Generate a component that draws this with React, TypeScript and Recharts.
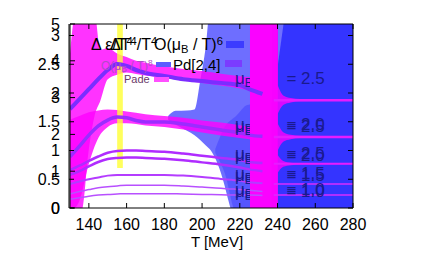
import React from 'react';
import { ComposedChart, XAxis, YAxis, Area, Line } from 'recharts';

// temperature grid for the curves left of the magenta strip (MeV)
const temps = [130, 135, 140, 145, 150, 155, 160, 165, 170, 180, 190, 200, 210, 220, 225, 232];

// curves, one per muB/T (values on the 0..5 axis)
const lineTop = [2.69, 2.96, 3.23, 3.5, 3.75, 3.91, 3.86, 3.75, 3.67, 3.59, 3.5, 3.45, 3.4, 3.34, 3.23, 3.1];
const lineSecond = [1.39, 1.68, 1.98, 2.23, 2.39, 2.47, 2.45, 2.38, 2.34, 2.34, 2.28, 2.2, 2.12, 2.04, 1.98, 1.95];
const lineThird = [1.03, 1.15, 1.28, 1.4, 1.5, 1.55, 1.56, 1.56, 1.55, 1.53, 1.48, 1.42, 1.36, 1.3, 1.25, 1.22];
const lineFourth = [0.9, 1.0, 1.13, 1.25, 1.33, 1.36, 1.37, 1.37, 1.36, 1.34, 1.3, 1.24, 1.18, 1.1, 1.05, 1.0];
const lineFifth = [0.65, 0.72, 0.78, 0.83, 0.88, 0.9, 0.9, 0.9, 0.9, 0.9, 0.88, 0.84, 0.79, 0.74, 0.7, 0.67];
const lineSixth = [0.38, 0.45, 0.5, 0.55, 0.58, 0.6, 0.62, 0.62, 0.62, 0.62, 0.6, 0.57, 0.54, 0.5, 0.48, 0.45];
const lineSeventh = [0.24, 0.28, 0.32, 0.35, 0.37, 0.38, 0.39, 0.39, 0.39, 0.39, 0.38, 0.37, 0.36, 0.35, 0.35, 0.34];

// the same curves right of the strip
const rightT = [238, 250, 260, 270, 280];
const rightTop = [2.93, 2.93, 2.93, 2.93, 2.93];
const rightSecond = [1.93, 1.93, 1.93, 1.93, 1.93];
const rightThird = [1.2, 1.2, 1.2, 1.2, 1.2];
const rightFourth = [0.65, 0.65, 0.65, 0.65, 0.65];
const rightFifth = [0.35, 0.35, 0.35, 0.35, 0.35];

// Pade error bands
const bandTopT = [130, 133, 136, 140, 143, 146, 150, 155, 160, 165, 170, 180, 190, 200, 210, 220, 226];
const bandTopLo = [-0.1, -0.1, -0.1, 1.6, 2.5, 2.9, 3.5, 3.62, 3.68, 3.64, 3.6, 3.53, 3.46, 3.4, 3.33, 3.25, 3.18];
const bandTopHi = [4.2, 5.3, 5.3, 5.3, 5.3, 4.3, 4.35, 4.2, 4.1, 4.0, 3.95, 3.85, 3.78, 3.72, 3.65, 3.58, 3.55];

const bandSecT = [130, 135, 140, 145, 150, 155, 160, 170, 180, 190, 200, 210, 220, 226];
const bandSecLo = [-0.1, 0.2, 1.2, 1.9, 2.2, 2.3, 2.3, 2.24, 2.2, 2.13, 2.05, 1.97, 1.9, 1.86];
const bandSecHi = [2.4, 2.5, 2.6, 2.65, 2.68, 2.66, 2.62, 2.55, 2.5, 2.45, 2.38, 2.32, 2.25, 2.2];

// Pd[2,4] bands
const blueT = [182, 186, 192, 196, 199, 202, 204, 207, 210, 212, 214, 216, 280];
const blueLo = [2.4, 2.26, 2.1, 1.98, 1.85, 1.7, 1.6, 1.35, 0.95, 0.6, 0.2, -0.1, -0.1];
const blueHi = [2.5, 2.64, 2.65, 2.68, 3.45, 4.4, 5.3, 5.3, 5.3, 5.3, 5.3, 5.3, 5.3];
const blue2T = [207, 212, 218, 224, 240];
const blue2Lo = [1.5, 0.95, -0.1, -0.1, -0.1];
const blue2Hi = [1.6, 2.2, 2.5, 2.8, 2.9];

// flares right of the magenta strip
const flareT = [240, 243, 247, 252, 280];
const flare1Lo = [2.55, 2.8, 2.87, 2.9, 2.91];
const flare1Hi = [3.35, 3.06, 2.99, 2.96, 2.95];
const flare2Lo = [1.55, 1.8, 1.87, 1.9, 1.91];
const flare2Hi = [2.3, 2.06, 1.99, 1.96, 1.95];
const flare3Lo = [0.95, 1.12, 1.16, 1.18, 1.19];
const flare3Hi = [1.45, 1.28, 1.23, 1.21, 1.21];

// vertical strips
const darkT = [237, 280];
const wedgeT = [240.2, 244];
const wedgeLo = [3.9, 5.3];
const magentaT = [225.4, 240.2];
const yellowT = [155, 158];
const yellowRange = [1.09, 5.3];
const fullRange = [-0.1, 5.3];

const xTicks = [140, 160, 180, 200, 220, 240, 260, 280];
const ticksA = [0, 0.5, 1, 1.5, 2, 2.5, 3];
const ticksB = [0, 1, 2, 3, 4, 5];

const pts = (xs: number[], ys: number[]) => xs.map((T, i) => ({ T, v: ys[i] }));
const rng = (xs: number[], lo: number[], hi: number[]) => xs.map((T, i) => ({ T, r: [lo[i], hi[i]] }));
const strip = (xs: number[], r: number[]) => xs.map((T) => ({ T, r }));

const FONT = '"Liberation Sans", Arial, sans-serif';
const tickStyle = { fontSize: 16, fill: '#000', fontFamily: FONT };

const Sub = ({ c }: { c: string }) => <span style={{ fontSize: '0.7em', verticalAlign: '-0.25em' }}>{c}</span>;
const Sup = ({ c }: { c: string }) => <span style={{ fontSize: '0.7em', verticalAlign: '0.45em' }}>{c}</span>;

const Txt = ({ x, cy, fs, color = '#000', children }: any) => (
  <div style={{ position: 'absolute', left: x, top: cy - 0.49 * fs, fontSize: fs, lineHeight: 1, color, whiteSpace: 'nowrap', fontFamily: FONT }}>
    {children}
  </div>
);

const Swatch = ({ x, y, w, h, color }: any) => (
  <div style={{ position: 'absolute', left: x, top: y, width: w, height: h, background: color }} />
);

const MuLabel = ({ cy, val }: { cy: number; val: string }) => (
  <Txt x={235} cy={cy} fs={17} color="#1a1a8e">
    μ<Sub c="B" /> / T <span style={{ marginLeft: 5 }}>= {val}</span>
  </Txt>
);

const line = (data: any, stroke: string, w: number) => (
  <Line xAxisId="b" yAxisId="b" data={data} dataKey="v" type="monotone" stroke={stroke} strokeWidth={w} dot={false} isAnimationActive={false} />
);
const band = (data: any, fill: string, op: number, type: any = 'monotone', xId = 'b') => (
  <Area xAxisId={xId} yAxisId="b" data={data} dataKey="r" type={type} fill={fill} fillOpacity={op} stroke="none" isAnimationActive={false} />
);

// the magenta strip (x 250..278 px) hides the middle of the curve labels
const stripClip = 'polygon(0 0, 250px 0, 250px 254px, 278px 254px, 278px 0, 424px 0, 424px 254px, 0 254px)';

export default function App() {
  return (
    <div style={{ position: 'absolute', left: 0, top: 0, width: 424, height: 254, background: '#fff', overflow: 'hidden' }}>
      <ComposedChart width={424} height={254} margin={{ top: 23, right: 70, bottom: 0, left: 0 }}>
        <XAxis xAxisId="b" dataKey="T" type="number" domain={[130, 280]} ticks={xTicks} allowDataOverflow
          height={46} stroke="#000" tickSize={-5} tickMargin={16} tick={tickStyle} />
        <XAxis xAxisId="t" orientation="top" dataKey="T" type="number" domain={[130, 280]} ticks={xTicks} allowDataOverflow
          height={1} stroke="#000" tickSize={-5} tickFormatter={() => ''} />
        <YAxis yAxisId="z" type="number" domain={[0, 3.2]} ticks={ticksA} width={69} stroke="#000"
          tickSize={-5} tickMargin={14} tick={tickStyle} />
        <YAxis yAxisId="b" type="number" domain={[0, 5]} ticks={ticksB} width={1} stroke="#000" allowDataOverflow
          tickSize={-5} tickMargin={15} tick={tickStyle} />
        <YAxis yAxisId="r" orientation="right" type="number" domain={[0, 3.2]} ticks={ticksA} width={1} stroke="#000"
          tickSize={-5} tickFormatter={() => ''} />

        <Line xAxisId="b" yAxisId="z" data={pts([130, 280], [0, 3.2])} dataKey="v" stroke="none" dot={false} isAnimationActive={false} />
        <Line xAxisId="b" yAxisId="r" data={pts([130, 280], [0, 3.2])} dataKey="v" stroke="none" dot={false} isAnimationActive={false} />

        {band(rng(blueT, blueLo, blueHi), '#0d0dff', 0.6)}
        {band(strip(darkT, fullRange), '#3434ff', 1, 'linear')}
        {band(rng(wedgeT, wedgeLo, [5.3, 5.3]), '#7070ff', 1, 'linear')}
        {band(rng(blue2T, blue2Lo, blue2Hi), '#2020ff', 0.3)}
        {band(rng(bandTopT, bandTopLo, bandTopHi), '#ff00ff', 0.8)}
        {band(rng(bandSecT, bandSecLo, bandSecHi), '#ff00ff', 0.8)}

        {line(pts(temps, lineSeventh), '#b850ff', 1.5)}
        {line(pts(temps, lineSixth), '#b850ff', 1.5)}
        {line(pts(temps, lineFifth), '#b43cff', 2)}
        {line(pts(temps, lineFourth), '#b02cff', 2.5)}
        {line(pts(temps, lineThird), '#b02cff', 2.5)}
        {line(pts(temps, lineSecond), '#9b2cff', 3.5)}
        {line(pts(temps, lineTop), '#7b2dff', 4)}

        {band(rng(flareT, flare1Lo, flare1Hi), '#ff00ff', 0.8)}
        {band(rng(flareT, flare2Lo, flare2Hi), '#ff00ff', 0.8)}
        {band(rng(flareT, flare3Lo, flare3Hi), '#ff00ff', 0.8)}
        {line(pts(rightT, rightTop), '#e61cff', 2.5)}
        {line(pts(rightT, rightSecond), '#e61cff', 2.5)}
        {line(pts(rightT, rightThird), '#e61cff', 2)}
        {line(pts(rightT, rightFourth), '#d82cff', 1.5)}
        {line(pts(rightT, rightFifth), '#d82cff', 1.5)}

        {band(strip(magentaT, fullRange), '#ff00ff', 0.97, 'linear', 't')}
        {band(strip(yellowT, yellowRange), '#ffff33', 0.8, 'linear', 't')}
      </ComposedChart>

      <div style={{ position: 'absolute', left: 0, top: 0, width: 424, height: 254, pointerEvents: 'none', clipPath: stripClip }}>
        <MuLabel cy={78} val="2.5" />
        <MuLabel cy={124} val="2.0" />
        <MuLabel cy={126} val="2.5" />
        <MuLabel cy={153} val="2.5" />
        <MuLabel cy={155} val="2.0" />
        <MuLabel cy={173} val="1.5" />
        <MuLabel cy={175} val="1.5" />
        <MuLabel cy={189} val="1.0" />
        <MuLabel cy={191} val="1.0" />
      </div>

      <div style={{ position: 'absolute', left: 0, top: 0, width: 424, height: 254, pointerEvents: 'none' }}>
        <Txt x={91} cy={44} fs={16}>Δ ε/T<Sup c="4" /></Txt>
        <Txt x={110} cy={44} fs={16}>ΔT<Sup c="4" />/T<Sup c="4" /></Txt>
        <Txt x={154} cy={44} fs={16}>O(μ<Sub c="B" /> / T)<Sup c="6" /></Txt>
        <Swatch x={226} y={41} w={18} h={7} color="#3c3cff" />
        <Txt x={101} cy={65} fs={12} color="#b04cc8">O(μ<Sub c="B" /> / T)<Sup c="8" /></Txt>
        <Swatch x={156} y={62} w={15} h={5} color="#5c5cff" />
        <Txt x={173} cy={64} fs={15}>Pd[2,4]</Txt>
        <Swatch x={225} y={60} w={17} h={7} color="#7b3cff" />
        <Txt x={124} cy={79} fs={11} color="#6a3a6a">Pade</Txt>
        <Swatch x={154} y={77} w={15} h={5} color="#ff50ff" />

        <div style={{ position: 'absolute', left: 167, width: 100, top: 241 - 0.49 * 15, textAlign: 'center', fontSize: 15, lineHeight: 1, fontFamily: FONT }}>
          T [MeV]
        </div>
      </div>
    </div>
  );
}
